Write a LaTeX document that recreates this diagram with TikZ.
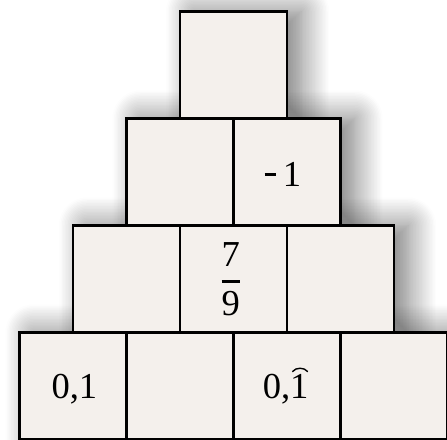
\documentclass[tikz,border=0pt]{standalone}
\usepackage{amsmath}
\usepackage{fontspec}
\setmainfont{Liberation Serif}
\usetikzlibrary{shadows.blur}
\definecolor{paper}{RGB}{244,240,236}
\tikzset{
  cell/.style={draw, line width=2pt, fill=paper, minimum size=2.675cm,
    inner sep=0pt, outer sep=0pt},
  shade cell/.style={minimum size=2.675cm, inner sep=0pt, fill=paper,
    blur shadow={shadow xshift=10pt, shadow yshift=0pt, shadow blur steps=20,
      shadow blur radius=20pt, shadow opacity=55}},
}
\begin{document}
\begin{tikzpicture}[x=2.675cm,y=2.675cm,font=\fontsize{26}{31}\selectfont]
  \useasboundingbox (-2.182,0.607) rectangle (1.995,-3.5);
  % shadows first, then the pyramid of cells (row r has r cells)
  \foreach \r in {1,...,4}{
    \foreach \c in {1,...,\r}{
      \node[shade cell] at ({\c-(\r+1)/2},{1-\r}) {};
    }
  }
  \foreach \r in {1,...,4}{
    \foreach \c in {1,...,\r}{
      \node[cell] (r\r c\c) at ({\c-(\r+1)/2},{1-\r}) {};
    }
  }
  % given values
  \node at ([xshift=-3pt,yshift=-2pt]r2c2.center)
    {\rule[0.3em]{8pt}{2.2pt}\hspace{5pt}1};
  \node (frac) at ([xshift=-2pt]r3c2.center)
    {$\genfrac{}{}{2pt}{0}{\text{7}}{\text{9}}$};
  \node at ([xshift=1pt,yshift=-2pt]r4c1.center) {0,1};
  \node (rep) at ([xshift=-1pt,yshift=-2pt]r4c3.center) {0,1};
  \draw[line width=1pt] ([xshift=-15pt,yshift=-2pt]rep.north east)
    to[bend left=50] ([xshift=-4pt,yshift=-2pt]rep.north east);
\end{tikzpicture}
\end{document}
